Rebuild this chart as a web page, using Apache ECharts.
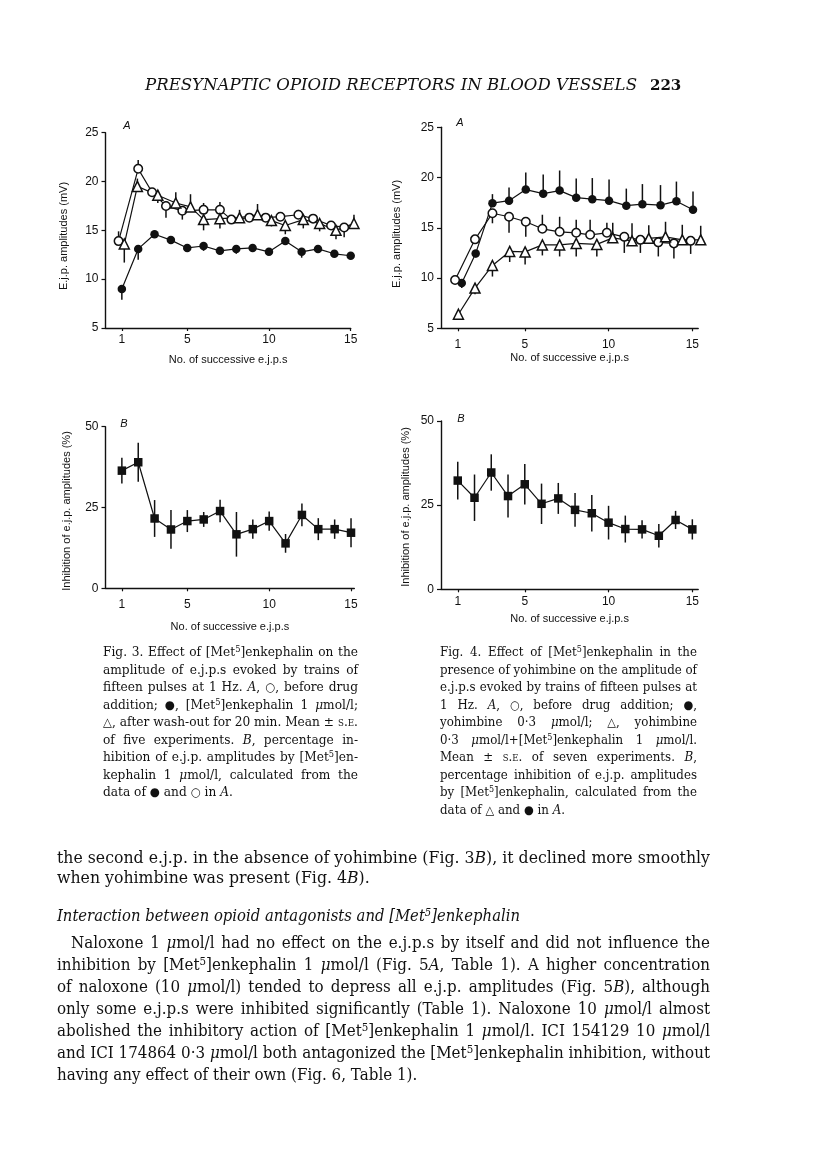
<!DOCTYPE html>
<html>
<head>
<meta charset="utf-8">
<script src="https://cdn.jsdelivr.net/npm/echarts@6/dist/echarts.min.js"></script>
<style>
html,body{margin:0;padding:0;background:#fff;width:816px;height:1163px;overflow:hidden;}
#chart{position:absolute;left:0;top:0;width:816px;height:1163px;}
.t{position:absolute;white-space:nowrap;font-family:"DejaVu Serif",serif;color:#111;transform-origin:0 50%;}
.cap{font-size:12.6px;line-height:16px;}
.body{font-size:15.8px;line-height:20px;}
.sup{font-size:0.68em;vertical-align:0.5em;line-height:0;}
.sc{font-variant:small-caps;}
.sym{font-family:"DejaVu Sans",sans-serif;font-size:0.95em;}
</style>
</head>
<body>
<div id="chart"></div>

<div class="t" data-g="h" data-j="2" data-w="492" style="left:145px;top:75px;font-size:16px;line-height:20px;font-style:italic;">PRESYNAPTIC OPIOID RECEPTORS IN BLOOD VESSELS</div>
<div class="t" style="left:650px;top:75px;font-size:15px;line-height:20px;font-weight:bold;">223</div>

<!-- Fig. 3 caption -->
<div class="t cap" data-g="c3" data-j="1" data-w="255" style="left:103px;top:644px;">Fig. 3. Effect of [Met<span class="sup">5</span>]enkephalin on the</div>
<div class="t cap" data-g="c3" data-j="1" data-w="255" style="left:103px;top:661.5px;">amplitude of e.j.p.s evoked by trains of</div>
<div class="t cap" data-g="c3" data-j="1" data-w="255" style="left:103px;top:679px;">fifteen pulses at 1 Hz. <i>A</i>, <span class="sym">○</span>, before drug</div>
<div class="t cap" data-g="c3" data-j="1" data-w="255" style="left:103px;top:696.5px;">addition; <span class="sym">●</span>, [Met<span class="sup">5</span>]enkephalin 1 <i>μ</i>mol/l;</div>
<div class="t cap" data-g="c3" data-j="1" data-w="255" style="left:103px;top:714px;"><span class="sym">△</span>, after wash-out for 20 min. Mean ± <span class="sc">s.e.</span></div>
<div class="t cap" data-g="c3" data-j="1" data-w="255" style="left:103px;top:731.5px;">of five experiments. <i>B</i>, percentage in-</div>
<div class="t cap" data-g="c3" data-j="1" data-w="255" style="left:103px;top:749px;">hibition of e.j.p. amplitudes by [Met<span class="sup">5</span>]en-</div>
<div class="t cap" data-g="c3" data-j="1" data-w="255" style="left:103px;top:766.5px;">kephalin 1 <i>μ</i>mol/l, calculated from the</div>
<div class="t cap" data-g="c3" data-j="0" data-w="255" style="left:103px;top:784px;">data of <span class="sym">●</span> and <span class="sym">○</span> in <i>A</i>.</div>

<!-- Fig. 4 caption -->
<div class="t cap" data-g="c4" data-j="1" data-w="257" style="left:440px;top:644px;">Fig. 4. Effect of [Met<span class="sup">5</span>]enkephalin in the</div>
<div class="t cap" data-g="c4" data-j="1" data-w="257" style="left:440px;top:661.5px;">presence of yohimbine on the amplitude of</div>
<div class="t cap" data-g="c4" data-j="1" data-w="257" style="left:440px;top:679px;">e.j.p.s evoked by trains of fifteen pulses at</div>
<div class="t cap" data-g="c4" data-j="1" data-w="257" style="left:440px;top:696.5px;">1 Hz. <i>A</i>, <span class="sym">○</span>, before drug addition; <span class="sym">●</span>,</div>
<div class="t cap" data-g="c4" data-j="1" data-w="257" style="left:440px;top:714px;">yohimbine 0·3 <i>μ</i>mol/l; <span class="sym">△</span>, yohimbine</div>
<div class="t cap" data-g="c4" data-j="1" data-w="257" style="left:440px;top:731.5px;">0·3 <i>μ</i>mol/l+[Met<span class="sup">5</span>]enkephalin 1 <i>μ</i>mol/l.</div>
<div class="t cap" data-g="c4" data-j="1" data-w="257" style="left:440px;top:749px;">Mean ± <span class="sc">s.e.</span> of seven experiments. <i>B</i>,</div>
<div class="t cap" data-g="c4" data-j="1" data-w="257" style="left:440px;top:766.5px;">percentage inhibition of e.j.p. amplitudes</div>
<div class="t cap" data-g="c4" data-j="1" data-w="257" style="left:440px;top:784px;">by [Met<span class="sup">5</span>]enkephalin, calculated from the</div>
<div class="t cap" data-g="c4" data-j="0" data-w="257" style="left:440px;top:801.5px;">data of <span class="sym">△</span> and <span class="sym">●</span> in <i>A</i>.</div>

<!-- body text -->
<div class="t body" data-g="b1" data-j="1" data-w="653" style="left:57px;top:848px;">the second e.j.p. in the absence of yohimbine (Fig. 3<i>B</i>), it declined more smoothly</div>
<div class="t body" data-g="b1" data-j="0" data-w="653" style="left:57px;top:868px;">when yohimbine was present (Fig. 4<i>B</i>).</div>
<div class="t body" data-g="hd" data-j="2" data-w="463" style="left:57px;top:906px;font-style:italic;">Interaction between opioid antagonists and [Met<span class="sup">5</span>]enkephalin</div>
<div class="t body" data-g="b2" data-j="1" data-w="639" style="left:71px;top:933px;">Naloxone 1 <i>μ</i>mol/l had no effect on the e.j.p.s by itself and did not influence the</div>
<div class="t body" data-g="b2" data-j="1" data-w="653" style="left:57px;top:955px;">inhibition by [Met<span class="sup">5</span>]enkephalin 1 <i>μ</i>mol/l (Fig. 5<i>A</i>, Table 1). A higher concentration</div>
<div class="t body" data-g="b2" data-j="1" data-w="653" style="left:57px;top:977px;">of naloxone (10 <i>μ</i>mol/l) tended to depress all e.j.p. amplitudes (Fig. 5<i>B</i>), although</div>
<div class="t body" data-g="b2" data-j="1" data-w="653" style="left:57px;top:999px;">only some e.j.p.s were inhibited significantly (Table 1). Naloxone 10 <i>μ</i>mol/l almost</div>
<div class="t body" data-g="b2" data-j="1" data-w="653" style="left:57px;top:1021px;">abolished the inhibitory action of [Met<span class="sup">5</span>]enkephalin 1 <i>μ</i>mol/l. ICI 154129 10 <i>μ</i>mol/l</div>
<div class="t body" data-g="b2" data-j="1" data-w="653" style="left:57px;top:1043px;">and ICI 174864 0·3 <i>μ</i>mol/l both antagonized the [Met<span class="sup">5</span>]enkephalin inhibition, without</div>
<div class="t body" data-g="b2" data-j="0" data-w="653" style="left:57px;top:1065px;">having any effect of their own (Fig. 6, Table 1).</div>

<script>
// ---------------- DATA ----------------
// Fig. 3A  (E.j.p. amplitudes, mV)
const fig3A_open_x = [0.8, 2.0, 2.85, 3.7, 4.7, 6.0, 7.0, 7.7, 8.8, 9.8, 10.7, 11.8, 12.7, 13.8, 14.6];
const fig3A_open_y = [13.9, 21.3, 18.9, 17.5, 17.0, 17.1, 17.1, 16.1, 16.3, 16.3, 16.4, 16.6, 16.2, 15.5, 15.3];
const fig3A_open_err = [1.0, 0.9, 0.4, -1.2, -0.9, 0.7, 0.8, -0.4, -0.4, 0.4, 0.4, 0.5, -0.3, -0.4, -1.0];

const fig3A_tri_x = [1.15, 1.95, 3.2, 4.3, 5.2, 6.0, 7.0, 8.2, 9.3, 10.15, 11.0, 12.1, 13.1, 14.1, 15.2];
const fig3A_tri_y = [13.6, 19.5, 18.6, 17.8, 17.4, 16.1, 16.2, 16.3, 16.6, 16.0, 15.5, 16.1, 15.7, 15.0, 15.7];
const fig3A_tri_err = [-1.9, 0.8, -0.8, 1.1, 1.3, -1.1, -1.0, 0.8, 1.1, -0.6, -0.9, -0.9, -0.8, -0.9, 0.9];

const fig3A_fill_x = [1, 2, 3, 4, 5, 6, 7, 8, 9, 10, 11, 12, 13, 14, 15];
const fig3A_fill_y = [9.0, 13.1, 14.6, 14.0, 13.2, 13.4, 12.9, 13.1, 13.2, 12.8, 13.9, 12.8, 13.1, 12.6, 12.4];
const fig3A_fill_err = [-1.1, -1.1, -0.3, -0.3, -0.3, -0.5, -0.3, -0.5, -0.4, -0.3, -0.3, -0.6, -0.3, -0.3, -0.3];

// Fig. 4A
const fig4A_open_x = [0.84, 2.03, 3.07, 4.06, 5.06, 6.05, 7.08, 8.07, 8.9, 9.9, 10.94, 11.9, 12.97, 13.9, 14.9];
const fig4A_open_y = [9.8, 13.85, 16.45, 16.1, 15.6, 14.9, 14.6, 14.5, 14.3, 14.5, 14.1, 13.8, 13.55, 13.45, 13.7];
const fig4A_open_err = [0.3, 0.3, -1.0, -1.6, -1.5, 1.4, 1.5, 1.3, 1.5, 1.0, -1.6, -1.3, -1.4, -1.5, -1.3];

const fig4A_fill_x = [1.24, 2.07, 3.07, 4.06, 5.06, 6.1, 7.08, 8.07, 9.03, 10.03, 11.06, 12.02, 13.1, 14.05, 15.04];
const fig4A_fill_y = [9.5, 12.45, 17.45, 17.7, 18.8, 18.4, 18.7, 18.0, 17.85, 17.7, 17.2, 17.35, 17.25, 17.65, 16.8];
const fig4A_fill_err = [-0.5, -0.4, 0.9, 1.3, 1.7, 1.9, 2.0, 1.9, 2.1, 2.1, 1.7, 2.0, 2.0, 1.95, 1.8];

const fig4A_tri_x = [1.04, 2.03, 3.07, 4.1, 5.02, 6.05, 7.08, 8.07, 9.3, 10.25, 11.4, 12.4, 13.4, 14.4, 15.5];
const fig4A_tri_y = [6.4, 9.0, 11.25, 12.65, 12.6, 13.3, 13.3, 13.45, 13.35, 14.0, 13.7, 13.95, 14.1, 13.8, 13.8];
const fig4A_tri_err = [-0.3, -0.6, -1.1, -1.05, -1.25, -1.05, -1.15, -1.3, -1.2, 1.5, 1.75, 1.3, 1.5, 1.5, 1.4];

// Fig. 3B / 4B  (Inhibition, %)
const ejpNumbers = [1, 2, 3, 4, 5, 6, 7, 8, 9, 10, 11, 12, 13, 14, 15];
const fig3B_y = [36.4, 39.0, 21.6, 18.2, 20.8, 21.3, 23.9, 16.7, 18.3, 20.8, 13.9, 22.7, 18.3, 18.3, 17.2];
const fig3B_err = [4.0, 6.0, 5.7, 6.0, 3.4, 2.3, 3.5, 6.9, 3.0, 3.0, 2.9, 3.5, 3.4, 3.0, 4.5];
const fig4B_y = [32.3, 27.2, 34.7, 27.7, 31.2, 25.4, 27.0, 23.6, 22.6, 19.8, 17.9, 17.8, 15.9, 20.6, 17.8];
const fig4B_err = [5.6, 6.9, 5.4, 6.4, 6.0, 6.0, 4.6, 5.0, 5.4, 5.0, 4.0, 2.7, 3.5, 2.7, 3.0];

const xTickLabels = [1, 5, 10, 15];
const xTitle = 'No. of successive e.j.p.s';
const yTitleA = 'E.j.p. amplitudes (mV)';
const yTitleB = 'Inhibition of e.j.p. amplitudes (%)';

// ---------------- CHART ----------------
const INK = '#111';
const SANS = '"Liberation Sans", Arial, sans-serif';
const chart = echarts.init(document.getElementById('chart'), null, {renderer: 'canvas'});

const pts = (xs, ys) => xs.map((x, i) => [x, ys[i]]);
const oneSided = (xs, ys, es) => xs.map((x, i) => [x, ys[i], ys[i] + es[i]]);
const twoSided = (xs, ys, es) => xs.map((x, i) => [x, ys[i] - es[i], ys[i] + es[i]]);

function errSeries(idx, data) {
  return {
    type: 'custom', xAxisIndex: idx, yAxisIndex: idx, z: 1, clip: false,
    data: data, encode: {x: 0, y: [1, 2]}, silent: true,
    renderItem: function (params, api) {
      const a = api.coord([api.value(0), api.value(1)]);
      const b = api.coord([api.value(0), api.value(2)]);
      return {type: 'line', shape: {x1: a[0], y1: a[1], x2: b[0], y2: b[1]},
              style: {stroke: INK, lineWidth: 1.5}};
    }
  };
}
function lineSeries(idx, data, kind) {
  const open = kind === 'open' || kind === 'tri';
  const sym = kind === 'tri' ? 'triangle' : (kind === 'sq' ? 'rect' : 'circle');
  const size = kind === 'tri' ? 10 : (kind === 'sq' ? 8.5 : 8.5);
  return {
    type: 'line', xAxisIndex: idx, yAxisIndex: idx, z: 3, clip: false,
    data: data, symbol: sym, symbolSize: size, showSymbol: true, silent: true,
    lineStyle: {color: INK, width: 1.2},
    itemStyle: {color: open ? '#fff' : INK, borderColor: INK, borderWidth: open ? 1.5 : 0}
  };
}
function xAx(idx, max, margin, gap) {
  return {
    type: 'value', gridIndex: idx, min: 0, max: max,
    axisLine: {show: true, lineStyle: {color: INK, width: 1.4}},
    axisTick: {show: true, customValues: xTickLabels, length: 3, lineStyle: {color: INK, width: 1.2}},
    axisLabel: {customValues: xTickLabels, margin: margin, color: INK, fontFamily: SANS, fontSize: 12},
    splitLine: {show: false},
    name: xTitle, nameLocation: 'middle', nameGap: gap,
    nameTextStyle: {color: INK, fontFamily: SANS, fontSize: 11}
  };
}
function yAx(idx, min, max, interval) {
  return {
    type: 'value', gridIndex: idx, min: min, max: max, interval: interval,
    axisLine: {show: true, lineStyle: {color: INK, width: 1.4}},
    axisTick: {show: true, length: 4, lineStyle: {color: INK, width: 1.2}},
    axisLabel: {margin: 7, color: INK, fontFamily: SANS, fontSize: 12},
    splitLine: {show: false}
  };
}
function vText(x, y, txt) {
  return {type: 'text', x: x, y: y, rotation: Math.PI / 2, silent: true,
          style: {text: txt, fill: INK, font: '11px ' + SANS, align: 'center', verticalAlign: 'middle'}};
}
function panelLetter(x, y, txt) {
  return {type: 'text', x: x, y: y, silent: true,
          style: {text: txt, fill: INK, font: 'italic 11px ' + SANS, align: 'center', verticalAlign: 'middle'}};
}

const option = {
  animation: false,
  backgroundColor: '#fff',
  grid: [
    {left: 105.5, top: 132.7, width: 245.2, height: 195.3},
    {left: 441, top: 127.3, width: 257.2, height: 201},
    {left: 105.5, top: 426.7, width: 248.8, height: 161.6},
    {left: 441, top: 421, width: 257.2, height: 168.3}
  ],
  xAxis: [xAx(0, 15, 6, 26), xAx(1, 15.35, 10, 24), xAx(2, 15.2, 10, 33), xAx(3, 15.35, 6, 24)],
  yAxis: [yAx(0, 5, 25, 5), yAx(1, 5, 25, 5), yAx(2, 0, 50, 25), yAx(3, 0, 50, 25)],
  graphic: [
    vText(64, 236, yTitleA), vText(397, 234, yTitleA),
    vText(66.5, 511, yTitleB), vText(406, 507, yTitleB),
    panelLetter(127, 126, 'A'), panelLetter(460, 123, 'A'),
    panelLetter(124, 424, 'B'), panelLetter(461, 419, 'B')
  ],
  series: [
    errSeries(0, oneSided(fig3A_fill_x, fig3A_fill_y, fig3A_fill_err)),
    errSeries(0, oneSided(fig3A_open_x, fig3A_open_y, fig3A_open_err)),
    errSeries(0, oneSided(fig3A_tri_x, fig3A_tri_y, fig3A_tri_err)),
    lineSeries(0, pts(fig3A_fill_x, fig3A_fill_y), 'fill'),
    lineSeries(0, pts(fig3A_open_x, fig3A_open_y), 'open'),
    lineSeries(0, pts(fig3A_tri_x, fig3A_tri_y), 'tri'),

    errSeries(1, oneSided(fig4A_fill_x, fig4A_fill_y, fig4A_fill_err)),
    errSeries(1, oneSided(fig4A_open_x, fig4A_open_y, fig4A_open_err)),
    errSeries(1, oneSided(fig4A_tri_x, fig4A_tri_y, fig4A_tri_err)),
    lineSeries(1, pts(fig4A_fill_x, fig4A_fill_y), 'fill'),
    lineSeries(1, pts(fig4A_open_x, fig4A_open_y), 'open'),
    lineSeries(1, pts(fig4A_tri_x, fig4A_tri_y), 'tri'),

    errSeries(2, twoSided(ejpNumbers, fig3B_y, fig3B_err)),
    lineSeries(2, pts(ejpNumbers, fig3B_y), 'sq'),
    errSeries(3, twoSided(ejpNumbers, fig4B_y, fig4B_err)),
    lineSeries(3, pts(ejpNumbers, fig4B_y), 'sq')
  ]
};
chart.setOption(option);

// ---------------- text line fitting ----------------
function fitText() {
  const els = Array.from(document.querySelectorAll('.t[data-w]'));
  const groups = {};
  els.forEach(el => {
    el.style.transform = ''; el.style.wordSpacing = '';
    const g = el.dataset.g; (groups[g] = groups[g] || []).push(el);
    el._w = el.getBoundingClientRect().width;
  });
  Object.values(groups).forEach(list => {
    let s = 1;
    list.forEach(el => {
      const T = +el.dataset.w;
      if (el.dataset.j !== '0') s = Math.min(s, T / el._w);
      else if (el._w > T) s = Math.min(s, T / el._w);
    });
    list.forEach(el => {
      const T = +el.dataset.w, j = el.dataset.j;
      if (j === '2') { el.style.transform = 'scaleX(' + (T / el._w) + ')'; return; }
      el.style.transform = 'scaleX(' + s + ')';
      if (j === '1') {
        const n = (el.textContent.match(/ /g) || []).length;
        if (n > 0) el.style.wordSpacing = ((T / s - el._w) / n) + 'px';
      }
    });
  });
}
if (document.fonts && document.fonts.ready) document.fonts.ready.then(fitText); else fitText();
fitText();
</script>
</body>
</html>
